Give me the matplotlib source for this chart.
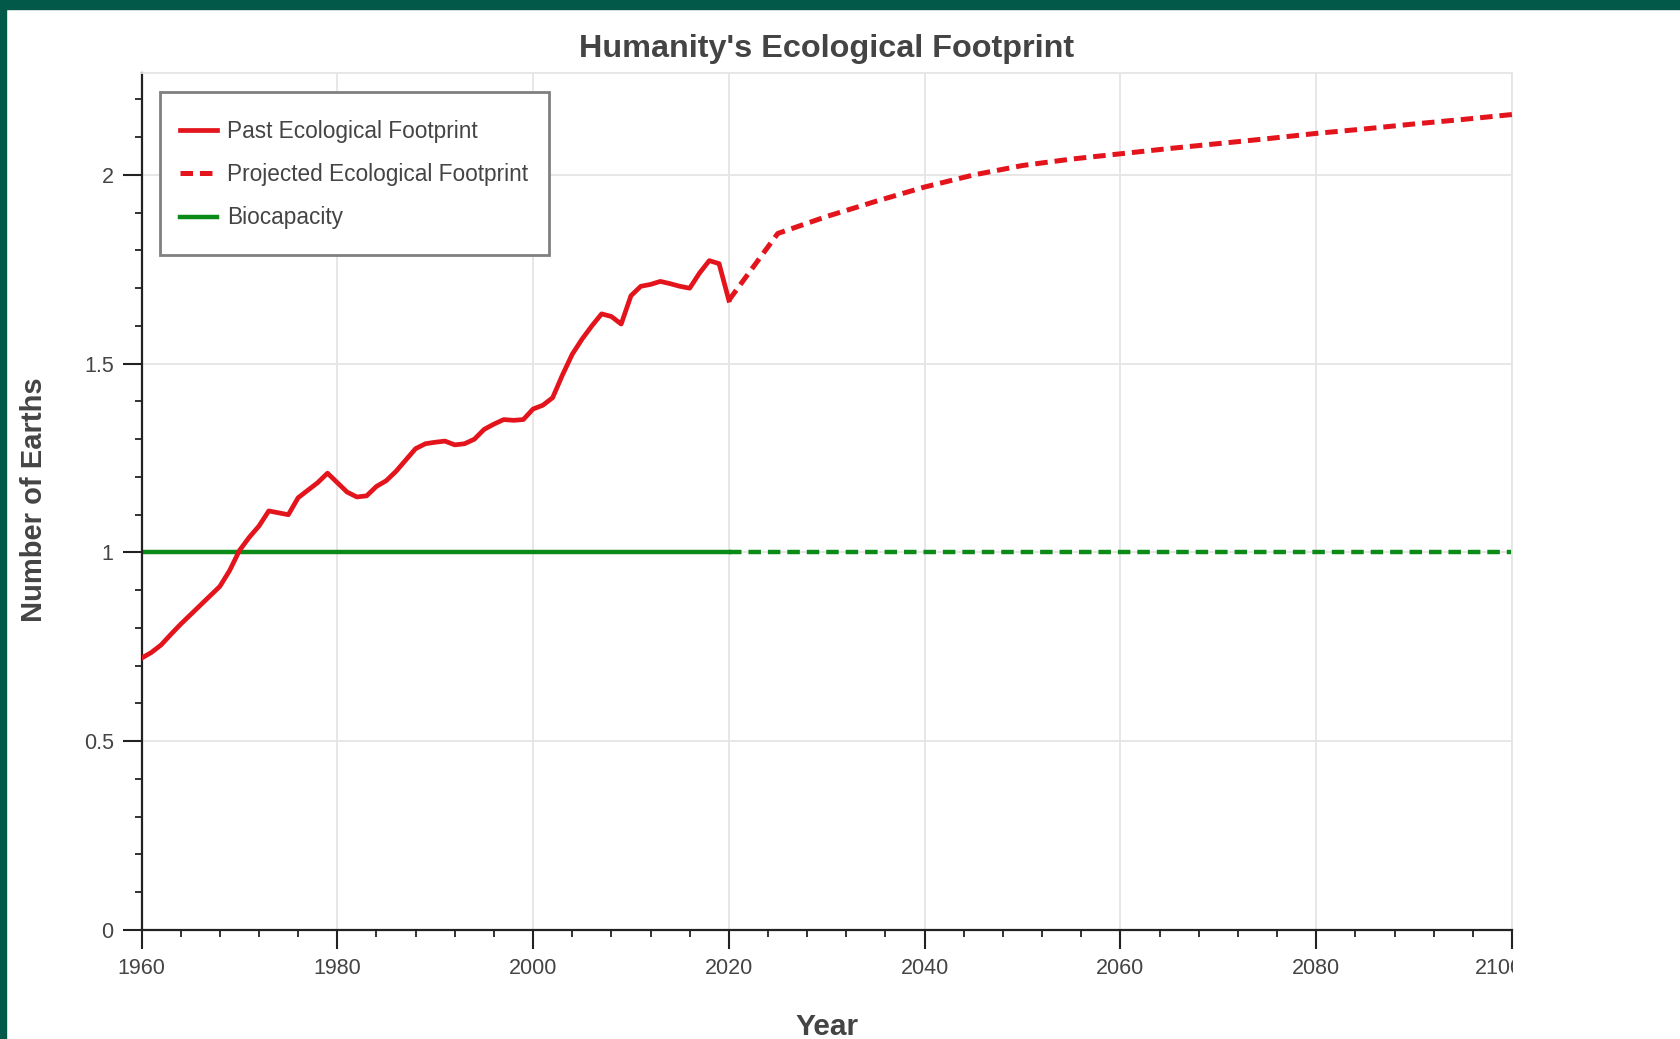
import matplotlib
matplotlib.use("Agg")
import matplotlib.pyplot as plt
from matplotlib.ticker import MultipleLocator
from matplotlib.patches import Rectangle
from matplotlib.transforms import Bbox, TransformedBbox, ScaledTranslation

plt.rcParams["font.family"] = ["Liberation Sans", "DejaVu Sans"]
plt.rcParams["lines.scale_dashes"] = False

# past footprint, one value per year 1960..2020
past_years = list(range(1960, 2021))
past_values = [
    0.720, 0.735, 0.755, 0.783, 0.810, 0.835, 0.860, 0.885, 0.910, 0.952,
    1.005, 1.040, 1.070, 1.110, 1.105, 1.100, 1.145, 1.165, 1.185, 1.210,
    1.185, 1.160, 1.147, 1.150, 1.175, 1.190, 1.215, 1.245, 1.275, 1.288,
    1.292, 1.295, 1.285, 1.288, 1.300, 1.326, 1.340, 1.352, 1.350, 1.352,
    1.380, 1.390, 1.410, 1.470, 1.525, 1.565, 1.600, 1.632, 1.625, 1.605,
    1.680, 1.705, 1.710, 1.718, 1.712, 1.705, 1.700, 1.740, 1.773, 1.765,
    1.668,
]

proj_years = [2020, 2025, 2030, 2035, 2040, 2045, 2050, 2055, 2060,
              2065, 2070, 2075, 2080, 2085, 2090, 2095, 2100]
proj_values = [1.668, 1.845, 1.890, 1.930, 1.968, 2.000, 2.025, 2.042, 2.056,
               2.070, 2.083, 2.096, 2.110, 2.122, 2.135, 2.147, 2.160]

biocapacity = 1.0
bio_past_years = [1960, 2020]
bio_proj_years = [2020, 2100]

x_ticks = [1960, 1980, 2000, 2020, 2040, 2060, 2080, 2100]
y_ticks = [0, 0.5, 1, 1.5, 2]
y_tick_labels = ["0", "0.5", "1", "1.5", "2"]

RED = "#e3141c"
GREEN = "#0a8a16"
TEXT = "#444444"
W, H = 1680, 1039

fig = plt.figure(figsize=(W / 100, H / 100), dpi=100)
fig.patches.append(Rectangle((0, 1 - 9 / H), 1, 9 / H, transform=fig.transFigure,
                             color="#02594a", zorder=0))
fig.patches.append(Rectangle((0, 0), 6 / W, 1, transform=fig.transFigure,
                             color="#02594a", zorder=0))

ax = fig.add_axes([141.5 / W, 1 - 930 / H, (1512 - 141.5) / W, (930 - 73) / H])

dash = (0, (9, 5))
ax.plot(past_years, past_values, color=RED, lw=3.4, solid_joinstyle="round",
        label="Past Ecological Footprint", zorder=3)
ax.plot(proj_years, proj_values, color=RED, lw=3.6, ls=dash,
        label="Projected Ecological Footprint", zorder=3)
ax.plot(bio_past_years, [biocapacity] * 2, color=GREEN, lw=3.2,
        label="Biocapacity", zorder=2)
ax.plot(bio_proj_years, [biocapacity] * 2, color=GREEN, lw=3.2, ls=dash, zorder=2)

ax.set_xlim(1960, 2100)
ax.set_ylim(0, 2.27)
ax.set_xticks(x_ticks)
ax.set_xticklabels([str(x) for x in x_ticks])
ax.set_yticks(y_ticks)
ax.set_yticklabels(y_tick_labels)
ax.xaxis.set_minor_locator(MultipleLocator(4))
ax.yaxis.set_minor_locator(MultipleLocator(0.1))

ax.grid(True, which="major", color="#e5e5e5", lw=1.3)
ax.set_axisbelow(True)
for s in ["top", "right"]:
    ax.spines[s].set_color("#e5e5e5")
    ax.spines[s].set_linewidth(1.3)
for s in ["left", "bottom"]:
    ax.spines[s].set_color("#222222")
    ax.spines[s].set_linewidth(1.6)

ax.tick_params(which="major", direction="out", length=14, width=1.5,
               color="#222222", labelsize=15.5, labelcolor=TEXT, pad=6)
ax.tick_params(which="minor", direction="out", length=5, width=1.3, color="#222222")

# legend entries without frame, frame drawn as its own box
leg = ax.legend(loc="center left", bbox_to_anchor=(0.0281, 0.8815), borderaxespad=0,
                fontsize=16.3, handlelength=1.63, handletextpad=0.45, labelspacing=0.9,
                borderpad=0, frameon=False, labelcolor=TEXT)
ax.add_patch(Rectangle((0.0132, 0.7876), 0.297 - 0.0132, 0.9777 - 0.7876,
                       transform=ax.transAxes, facecolor="white", edgecolor="#808080",
                       lw=2, zorder=4))
leg.set_zorder(5)

fig.text(827 / W, 1 - 49 / H, "Humanity's Ecological Footprint", ha="center",
         va="center", fontsize=23.3, fontweight="bold", color=TEXT)
fig.text(827 / W, 1 - 1027 / H, "Year", ha="center", va="center",
         fontsize=21.5, fontweight="bold", color=TEXT)
fig.text(34 / W, 1 - 500 / H, "Number of Earths", ha="center", va="center",
         rotation=90, fontsize=21, fontweight="bold", color=TEXT)

# last x label is shifted left and cut at the plot edge
last = ax.get_xticklabels()[-1]
last.set_transform(last.get_transform() + ScaledTranslation(-13 / 100, 0, fig.dpi_scale_trans))
last.set_clip_box(TransformedBbox(Bbox([[0, 0], [1513 / W, 1]]), fig.transFigure))
last.set_clip_on(True)

fig.savefig("out.png", dpi=100)
